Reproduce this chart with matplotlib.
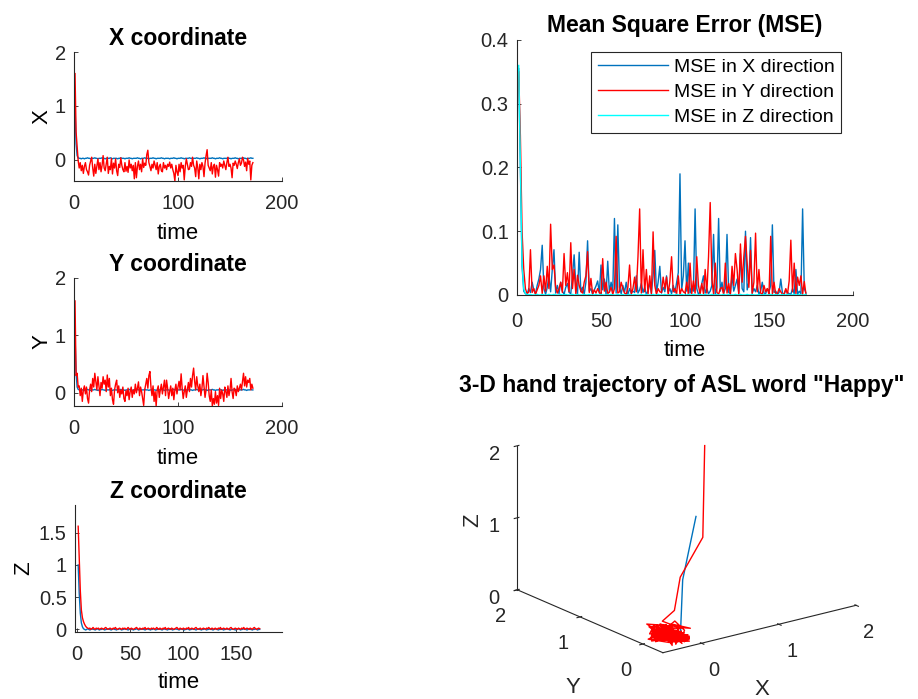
import matplotlib
matplotlib.use('Agg')
import matplotlib.pyplot as plt
from matplotlib.ticker import FuncFormatter

plt.rcParams['font.family'] = ['Liberation Sans', 'DejaVu Sans']

# ---- data (t = 1..172) ----
x_est = [1.00, 0.30, 0.08, 0.04, 0.03, 0.03, 0.02, 0.03, 0.03, 0.02,
         0.03, 0.03, 0.04, 0.03, 0.03, 0.02, 0.03, 0.03, 0.03, 0.04,
         0.03, 0.03, 0.02, 0.03, 0.03, 0.03, 0.04, 0.03, 0.03, 0.02,
         0.03, 0.03, 0.03, 0.03, 0.04, 0.03, 0.02, 0.03, 0.03, 0.03,
         0.03, 0.02, 0.03, 0.03, 0.04, 0.03, 0.03, 0.03, 0.02, 0.03,
         0.03, 0.03, 0.04, 0.03, 0.03, 0.02, 0.03, 0.03, 0.03, 0.03,
         0.04, 0.03, 0.03, 0.02, 0.03, 0.03, 0.03, 0.04, 0.03, 0.03,
         0.03, 0.02, 0.03, 0.03, 0.03, 0.04, 0.03, 0.03, 0.02, 0.03,
         0.03, 0.03, 0.03, 0.04, 0.03, 0.03, 0.02, 0.03, 0.03, 0.03,
         0.03, 0.02, 0.03, 0.03, 0.03, 0.04, 0.03, 0.03, 0.02, 0.03,
         0.03, 0.03, 0.04, 0.03, 0.03, 0.02, 0.03, 0.03, 0.03, 0.03,
         0.04, 0.03, 0.03, 0.02, 0.03, 0.03, 0.03, 0.04, 0.03, 0.03,
         0.02, 0.03, 0.03, 0.03, 0.04, 0.03, 0.03, 0.02, 0.03, 0.03,
         0.03, 0.03, 0.04, 0.03, 0.03, 0.02, 0.03, 0.03, 0.03, 0.04,
         0.03, 0.03, 0.02, 0.03, 0.03, 0.03, 0.03, 0.04, 0.03, 0.03,
         0.02, 0.03, 0.03, 0.03, 0.04, 0.03, 0.03, 0.02, 0.03, 0.03,
         0.03, 0.03, 0.04, 0.03, 0.03, 0.02, 0.03, 0.03, 0.03, 0.04,
         0.03, 0.03]
x_meas = [1.60, 0.52, 0.26, -0.01, -0.15, -0.05, -0.20, -0.10, -0.25, -0.12,
          -0.05, -0.18, -0.22, -0.28, -0.10, -0.02, 0.05, -0.15, -0.30, -0.08,
          -0.25, -0.12, 0.02, -0.18, -0.05, -0.22, -0.10, 0.08, -0.15, -0.20,
          -0.08, 0.05, -0.25, -0.12, -0.18, 0.03, -0.26, -0.06, -0.15, 0.02,
          -0.20, -0.29, -0.08, -0.14, 0.04, -0.10, -0.18, -0.22, -0.05, -0.21,
          -0.12, -0.23, 0.00, -0.15, -0.08, -0.20, -0.10, -0.35, -0.05, -0.33,
          -0.12, -0.02, -0.18, -0.08, -0.22, 0.02, -0.14, -0.06, -0.10, 0.10,
          0.18, -0.05, -0.12, -0.20, -0.08, -0.15, -0.02, -0.10, -0.18, -0.05,
          -0.26, -0.12, -0.08, -0.20, -0.22, -0.05, -0.15, -0.10, -0.18, -0.08,
          -0.12, -0.04, -0.15, -0.08, -0.18, -0.25, -0.39, -0.10, -0.22, -0.29,
          -0.08, -0.22, -0.05, -0.15, -0.10, -0.37, -0.12, 0.02, -0.08, -0.18,
          -0.17, -0.05, -0.12, 0.05, -0.10, -0.15, -0.31, -0.02, -0.14, -0.35,
          -0.08, -0.18, -0.05, -0.12, -0.31, -0.06, 0.08, 0.19, -0.10, -0.15,
          -0.20, -0.05, -0.26, -0.12, -0.08, -0.32, -0.10, -0.18, -0.30, -0.05,
          -0.12, -0.08, -0.15, -0.02, -0.10, -0.18, -0.05, 0.05, -0.12, -0.08,
          -0.15, -0.33, -0.06, -0.10, -0.02, -0.08, -0.16, -0.05, 0.02, -0.10,
          -0.06, 0.05, 0.00, -0.12, -0.04, -0.20, 0.03, -0.08, -0.02, -0.37,
          -0.10, -0.05]

y_est = [1.00, 0.35, 0.10, 0.06, 0.05, 0.05, 0.04, 0.05, 0.05, 0.04,
         0.05, 0.05, 0.06, 0.05, 0.05, 0.04, 0.05, 0.05, 0.05, 0.06,
         0.05, 0.05, 0.04, 0.05, 0.05, 0.05, 0.06, 0.05, 0.05, 0.04,
         0.05, 0.05, 0.05, 0.05, 0.06, 0.05, 0.04, 0.05, 0.05, 0.05,
         0.05, 0.04, 0.05, 0.05, 0.06, 0.05, 0.05, 0.05, 0.04, 0.05,
         0.05, 0.05, 0.06, 0.05, 0.05, 0.04, 0.05, 0.05, 0.05, 0.05,
         0.06, 0.05, 0.05, 0.04, 0.05, 0.05, 0.05, 0.06, 0.05, 0.05,
         0.05, 0.04, 0.05, 0.05, 0.05, 0.06, 0.05, 0.05, 0.04, 0.05,
         0.05, 0.05, 0.05, 0.06, 0.05, 0.05, 0.04, 0.05, 0.05, 0.05,
         0.05, 0.04, 0.05, 0.05, 0.05, 0.06, 0.05, 0.05, 0.04, 0.05,
         0.05, 0.05, 0.06, 0.05, 0.05, 0.04, 0.05, 0.05, 0.05, 0.05,
         0.06, 0.05, 0.05, 0.04, 0.05, 0.05, 0.05, 0.06, 0.05, 0.05,
         0.04, 0.05, 0.05, 0.05, 0.06, 0.05, 0.05, 0.04, 0.05, 0.05,
         0.05, 0.05, 0.06, 0.05, 0.05, 0.04, 0.05, 0.05, 0.05, 0.06,
         0.05, 0.05, 0.04, 0.05, 0.05, 0.05, 0.05, 0.06, 0.05, 0.05,
         0.04, 0.05, 0.05, 0.05, 0.06, 0.05, 0.05, 0.04, 0.05, 0.05,
         0.05, 0.05, 0.06, 0.05, 0.05, 0.04, 0.05, 0.05, 0.05, 0.06,
         0.05, 0.05]
y_meas = [1.60, 0.30, 0.34, 0.10, 0.12, -0.05, 0.08, -0.15, 0.05, 0.12,
          -0.02, 0.10, -0.10, -0.18, 0.05, 0.15, 0.02, 0.25, 0.10, 0.34,
          0.20, 0.05, 0.28, 0.12, -0.05, 0.18, 0.08, 0.28, 0.15, 0.22,
          0.02, 0.31, 0.10, 0.25, -0.05, 0.08, -0.12, -0.20, 0.05, 0.15,
          0.22, 0.00, 0.12, -0.08, 0.05, -0.02, 0.10, -0.10, -0.15, 0.04,
          -0.05, 0.08, -0.12, 0.02, 0.10, -0.08, 0.05, -0.02, 0.15, 0.00,
          0.08, 0.19, -0.05, 0.10, 0.02, -0.10, -0.22, 0.05, 0.15, 0.25,
          0.08, 0.30, 0.37, 0.10, -0.05, 0.12, -0.15, 0.02, -0.23, 0.05,
          0.12, -0.08, 0.05, 0.15, -0.02, 0.10, 0.22, -0.05, 0.22, 0.08,
          -0.10, 0.02, 0.12, -0.05, 0.08, -0.12, 0.05, 0.15, -0.02, 0.10,
          0.20, 0.05, 0.33, 0.08, -0.10, 0.02, 0.12, -0.08, 0.05, 0.18,
          0.02, 0.25, 0.10, 0.30, 0.43, 0.20, 0.05, 0.28, 0.12, 0.02,
          0.15, -0.05, 0.08, 0.30, 0.10, -0.08, 0.05, 0.34, 0.18, -0.05,
          -0.15, 0.05, -0.23, -0.10, -0.20, 0.02, -0.18, -0.05, -0.22, 0.08,
          -0.10, 0.05, -0.02, -0.15, 0.10, 0.02, -0.08, 0.12, -0.05, 0.05,
          0.25, 0.02, -0.10, 0.08, 0.05, -0.05, 0.12, 0.02, 0.08, 0.15,
          0.05, 0.20, 0.34, 0.12, 0.28, 0.10, 0.22, 0.18, 0.25, 0.05,
          0.15, 0.08]

z_est = [1.00, 0.55, 0.25, 0.10, 0.04, 0.01, 0.00, -0.01, 0.00, 0.01,
         0.00, -0.01, 0.00, 0.01, 0.00, 0.00, -0.01, 0.00, 0.01, 0.00,
         -0.01, 0.00, 0.00, 0.01, 0.00, -0.01, 0.00, 0.00, 0.01, 0.00,
         0.00, -0.01, 0.00, 0.01, 0.00, 0.00, -0.01, 0.00, 0.00, 0.01,
         0.00, -0.01, 0.00, 0.00, 0.01, 0.00, 0.00, -0.01, 0.00, 0.01,
         0.00, 0.00, -0.01, 0.00, 0.00, 0.01, 0.00, -0.01, 0.00, 0.00,
         0.01, 0.00, 0.00, -0.01, 0.00, 0.01, 0.00, 0.00, -0.01, 0.00,
         0.00, 0.01, 0.00, -0.01, 0.00, 0.00, 0.01, 0.00, 0.00, -0.01,
         0.00, 0.01, 0.00, 0.00, -0.01, 0.00, 0.00, 0.01, 0.00, -0.01,
         0.00, 0.00, 0.01, 0.00, 0.00, -0.01, 0.00, 0.01, 0.00, 0.00,
         -0.01, 0.00, 0.00, 0.01, 0.00, -0.01, 0.00, 0.00, 0.01, 0.00,
         0.00, -0.01, 0.00, 0.01, 0.00, 0.00, -0.01, 0.00, 0.00, 0.01,
         0.00, -0.01, 0.00, 0.00, 0.01, 0.00, 0.00, -0.01, 0.00, 0.01,
         0.00, 0.00, -0.01, 0.00, 0.00, 0.01, 0.00, -0.01, 0.00, 0.00,
         0.01, 0.00, 0.00, -0.01, 0.00, 0.01, 0.00, 0.00, -0.01, 0.00,
         0.00, 0.01, 0.00, -0.01, 0.00, 0.00, 0.01, 0.00, 0.00, -0.01,
         0.00, 0.01, 0.00, 0.00, -0.01, 0.00, 0.00, 0.01, 0.00, -0.01,
         0.00, 0.00]
z_meas = [1.60, 1.10, 0.60, 0.30, 0.18, 0.12, 0.08, 0.05, 0.03, 0.02,
          0.01, 0.02, 0.00, 0.01, 0.03, 0.01, 0.00, 0.02, 0.01, 0.02,
          0.00, 0.01, 0.02, 0.01, 0.00, 0.02, 0.03, 0.01, 0.00, 0.01,
          0.02, 0.01, 0.00, 0.02, 0.01, 0.03, 0.01, 0.00, 0.01, 0.02,
          0.01, 0.00, 0.02, 0.01, 0.02, 0.00, 0.01, 0.03, 0.01, 0.00,
          0.02, 0.01, 0.00, 0.01, 0.02, 0.03, 0.01, 0.00, 0.02, 0.01,
          0.00, 0.02, 0.01, 0.03, 0.00, 0.01, 0.02, 0.01, 0.00, 0.02,
          0.01, 0.02, 0.00, 0.01, 0.03, 0.01, 0.00, 0.02, 0.01, 0.00,
          0.02, 0.01, 0.03, 0.00, 0.01, 0.02, 0.01, 0.00, 0.02, 0.01,
          0.00, 0.01, 0.02, 0.03, 0.01, 0.00, 0.02, 0.01, 0.00, 0.02,
          0.01, 0.00, 0.02, 0.01, 0.03, 0.00, 0.01, 0.02, 0.01, 0.00,
          0.02, 0.03, 0.01, 0.00, 0.01, 0.02, 0.00, 0.01, 0.02, 0.01,
          0.00, 0.02, 0.01, 0.03, 0.01, 0.00, 0.02, 0.01, 0.00, 0.02,
          0.01, 0.00, 0.02, 0.01, 0.03, 0.00, 0.01, 0.02, 0.01, 0.00,
          0.02, 0.01, 0.00, 0.02, 0.03, 0.01, 0.00, 0.01, 0.02, 0.01,
          0.00, 0.02, 0.01, 0.00, 0.02, 0.01, 0.03, 0.00, 0.01, 0.02,
          0.01, 0.00, 0.02, 0.01, 0.00, 0.02, 0.03, 0.01, 0.00, 0.01,
          0.02, 0.01]

mse_x = [0.355, 0.200, 0.045, 0.006, 0.002, 0.001, 0.010, 0.004, 0.020, 0.008,
         0.002, 0.015, 0.025, 0.040, 0.078, 0.010, 0.001, 0.012, 0.030, 0.005,
         0.040, 0.071, 0.003, 0.015, 0.002, 0.020, 0.006, 0.001, 0.012, 0.018,
         0.004, 0.002, 0.030, 0.063, 0.015, 0.001, 0.067, 0.005, 0.012, 0.001,
         0.020, 0.085, 0.006, 0.010, 0.001, 0.008, 0.014, 0.022, 0.003, 0.047,
         0.008, 0.025, 0.001, 0.053, 0.004, 0.020, 0.006, 0.120, 0.003, 0.110,
         0.012, 0.002, 0.015, 0.004, 0.020, 0.001, 0.010, 0.003, 0.006, 0.004,
         0.030, 0.003, 0.008, 0.018, 0.004, 0.012, 0.001, 0.006, 0.020, 0.003,
         0.030, 0.070, 0.004, 0.020, 0.045, 0.003, 0.012, 0.005, 0.030, 0.004,
         0.010, 0.002, 0.015, 0.004, 0.020, 0.035, 0.190, 0.008, 0.030, 0.085,
         0.006, 0.050, 0.003, 0.012, 0.006, 0.135, 0.010, 0.001, 0.005, 0.018,
         0.030, 0.003, 0.010, 0.002, 0.006, 0.015, 0.095, 0.001, 0.012, 0.120,
         0.006, 0.020, 0.003, 0.010, 0.095, 0.004, 0.002, 0.030, 0.006, 0.015,
         0.025, 0.003, 0.065, 0.010, 0.005, 0.100, 0.008, 0.020, 0.090, 0.003,
         0.010, 0.005, 0.015, 0.001, 0.006, 0.020, 0.003, 0.002, 0.010, 0.005,
         0.015, 0.110, 0.004, 0.006, 0.001, 0.004, 0.025, 0.003, 0.001, 0.008,
         0.004, 0.002, 0.001, 0.010, 0.002, 0.040, 0.001, 0.006, 0.002, 0.135,
         0.010, 0.003]
mse_y = [0.350, 0.250, 0.100, 0.040, 0.010, 0.002, 0.005, 0.071, 0.004, 0.010,
         0.001, 0.008, 0.015, 0.030, 0.002, 0.030, 0.006, 0.045, 0.010, 0.111,
         0.040, 0.047, 0.012, 0.003, 0.010, 0.020, 0.004, 0.065, 0.015, 0.035,
         0.005, 0.082, 0.010, 0.040, 0.002, 0.031, 0.015, 0.006, 0.003, 0.020,
         0.030, 0.068, 0.004, 0.026, 0.002, 0.008, 0.003, 0.010, 0.004, 0.001,
         0.057, 0.006, 0.020, 0.002, 0.005, 0.012, 0.001, 0.010, 0.092, 0.003,
         0.005, 0.020, 0.010, 0.003, 0.001, 0.012, 0.047, 0.001, 0.010, 0.028,
         0.005, 0.060, 0.135, 0.003, 0.071, 0.005, 0.040, 0.002, 0.030, 0.001,
         0.099, 0.015, 0.001, 0.010, 0.005, 0.004, 0.028, 0.010, 0.028, 0.001,
         0.022, 0.060, 0.005, 0.010, 0.001, 0.030, 0.001, 0.010, 0.005, 0.003,
         0.020, 0.001, 0.050, 0.002, 0.022, 0.003, 0.060, 0.015, 0.001, 0.018,
         0.002, 0.040, 0.003, 0.060, 0.145, 0.025, 0.001, 0.050, 0.004, 0.001,
         0.010, 0.012, 0.001, 0.050, 0.003, 0.018, 0.001, 0.045, 0.015, 0.065,
         0.040, 0.001, 0.080, 0.020, 0.060, 0.092, 0.050, 0.012, 0.070, 0.002,
         0.020, 0.097, 0.005, 0.040, 0.003, 0.001, 0.015, 0.005, 0.010, 0.001,
         0.092, 0.001, 0.020, 0.001, 0.002, 0.010, 0.005, 0.001, 0.002, 0.010,
         0.001, 0.022, 0.086, 0.005, 0.050, 0.002, 0.028, 0.015, 0.030, 0.001,
         0.021, 0.001]
mse_z = [0.360, 0.200, 0.050, 0.010, 0.002, 0.001, 0.000, 0.001, 0.000, 0.000,
         0.000, 0.001, 0.000, 0.000, 0.001, 0.000, 0.000, 0.000, 0.001, 0.000,
         0.000, 0.001, 0.000, 0.000, 0.000, 0.001, 0.000, 0.000, 0.001, 0.000,
         0.000, 0.000, 0.001, 0.000, 0.000, 0.001, 0.000, 0.000, 0.000, 0.001,
         0.000, 0.000, 0.001, 0.000, 0.000, 0.000, 0.001, 0.000, 0.000, 0.001,
         0.000, 0.000, 0.000, 0.001, 0.000, 0.001, 0.000, 0.000, 0.000, 0.001,
         0.000, 0.000, 0.001, 0.000, 0.000, 0.000, 0.001, 0.000, 0.000, 0.001,
         0.000, 0.000, 0.000, 0.001, 0.000, 0.000, 0.001, 0.000, 0.000, 0.000,
         0.001, 0.000, 0.000, 0.001, 0.000, 0.000, 0.000, 0.001, 0.000, 0.000,
         0.001, 0.000, 0.000, 0.000, 0.001, 0.000, 0.000, 0.001, 0.000, 0.000,
         0.000, 0.001, 0.000, 0.000, 0.001, 0.000, 0.000, 0.000, 0.001, 0.000,
         0.000, 0.001, 0.000, 0.000, 0.000, 0.001, 0.000, 0.000, 0.001, 0.000,
         0.000, 0.000, 0.001, 0.000, 0.000, 0.001, 0.000, 0.000, 0.000, 0.001,
         0.000, 0.000, 0.001, 0.000, 0.000, 0.000, 0.001, 0.000, 0.000, 0.001,
         0.000, 0.000, 0.000, 0.001, 0.000, 0.000, 0.001, 0.000, 0.000, 0.000,
         0.001, 0.000, 0.000, 0.001, 0.000, 0.000, 0.000, 0.001, 0.000, 0.000,
         0.001, 0.000, 0.000, 0.000, 0.001, 0.000, 0.000, 0.001, 0.000, 0.000,
         0.000, 0.001]

t = list(range(1, len(x_meas) + 1))

BLUE = '#0072BD'
RED = '#FF0000'
CYAN = '#00FFFF'
DARK = '#262626'
LW = 1.0
TICK_FS = 14.5
LAB_FS = 16
TITLE_FS = 16.5

fig = plt.figure(figsize=(9.18, 6.99), dpi=100)


def matlab_style(ax, xpad=9.5):
    ax.spines['top'].set_visible(False)
    ax.spines['right'].set_visible(False)
    for s in ('left', 'bottom'):
        ax.spines[s].set_color(DARK)
        ax.spines[s].set_linewidth(0.8)
    ax.tick_params(direction='in', length=3, width=0.6, colors=DARK,
                   labelsize=TICK_FS)
    ax.tick_params(axis='x', pad=xpad)
    ax.tick_params(axis='y', pad=6)
    ax.yaxis.set_major_formatter(FuncFormatter(lambda v, p: '%g' % v))


# X coordinate
ax1 = fig.add_axes([0.0806, 0.7411, 0.2266, 0.1845])
ax1.plot(t, x_est, color=BLUE, lw=LW)
ax1.plot(t, x_meas, color=RED, lw=LW)
ax1.set_xlim(0, 200)
ax1.set_ylim(-0.39, 2)
ax1.set_yticks([0, 1, 2])
ax1.set_xticks([0, 100, 200])
matlab_style(ax1)
ax1.set_title('X coordinate', fontsize=TITLE_FS, fontweight='bold', pad=5)
ax1.set_xlabel('time', fontsize=LAB_FS, labelpad=7)
ax1.set_ylabel('X', fontsize=LAB_FS, labelpad=1.5)

# Y coordinate
ax2 = fig.add_axes([0.0806, 0.4192, 0.2266, 0.1831])
ax2.plot(t, y_est, color=BLUE, lw=LW)
ax2.plot(t, y_meas, color=RED, lw=LW)
ax2.set_xlim(0, 200)
ax2.set_ylim(-0.23, 2)
ax2.set_yticks([0, 1, 2])
ax2.set_xticks([0, 100, 200])
matlab_style(ax2)
ax2.set_title('Y coordinate', fontsize=TITLE_FS, fontweight='bold', pad=5)
ax2.set_xlabel('time', fontsize=LAB_FS, labelpad=7)
ax2.set_ylabel('Y', fontsize=LAB_FS, labelpad=1.5)

# Z coordinate
ax3 = fig.add_axes([0.0817, 0.0959, 0.2255, 0.1817])
ax3.plot(t, z_est, color=BLUE, lw=LW)
ax3.plot(t, z_meas, color=RED, lw=LW)
ax3.set_xlim(-2, 193)
ax3.set_ylim(-0.04, 1.93)
ax3.set_yticks([0, 0.5, 1, 1.5])
ax3.set_xticks([0, 50, 100, 150])
matlab_style(ax3)
ax3.set_title('Z coordinate', fontsize=TITLE_FS, fontweight='bold', pad=5)
ax3.set_xlabel('time', fontsize=LAB_FS, labelpad=6)
ax3.set_ylabel('Z', fontsize=LAB_FS, labelpad=3.5)

# MSE
ax4 = fig.add_axes([0.5632, 0.578, 0.366, 0.3648])
ax4.plot(t, mse_x, color=BLUE, lw=LW, label='MSE in X direction')
ax4.plot(t, mse_y, color=RED, lw=LW, label='MSE in Y direction')
ax4.plot(t, mse_z, color=CYAN, lw=LW, label='MSE in Z direction')
ax4.set_xlim(0, 200)
ax4.set_ylim(0, 0.4)
ax4.set_yticks([0, 0.1, 0.2, 0.3, 0.4])
ax4.set_xticks([0, 50, 100, 150, 200])
matlab_style(ax4, xpad=12)
ax4.set_title('Mean Square Error (MSE)', fontsize=TITLE_FS, fontweight='bold',
              pad=6)
ax4.set_xlabel('time', fontsize=LAB_FS, labelpad=7)
leg = ax4.legend(loc='upper right', fontsize=14, fancybox=False, framealpha=1,
                 edgecolor=DARK, handlelength=3.6, borderaxespad=0.6,
                 labelspacing=0.38, handletextpad=0.3, borderpad=0.35)
leg.get_frame().set_linewidth(0.8)

# 3-D trajectory
ax5 = fig.add_axes([0.4929, -0.0086, 0.5, 0.5], projection='3d')
ax5.plot(x_est, y_est, z_est, color=BLUE, lw=LW)
ax5.plot(x_meas, y_meas, z_meas, color=RED, lw=LW)
ax5.set_xlim(-0.5, 2)
ax5.set_ylim(-0.32, 2)
ax5.set_zlim(0, 2)
ax5.set_xticks([0, 1, 2])
ax5.set_yticks([0, 1, 2])
ax5.set_zticks([0, 1, 2])
ax5.set_proj_type('ortho')
ax5.view_init(elev=19, azim=-127)
ax5.set_box_aspect((1, 1, 0.63), zoom=1.04)
ax5.grid(False)
for a in (ax5.xaxis, ax5.yaxis, ax5.zaxis):
    a.set_pane_color((1, 1, 1, 0))
    a.pane.set_edgecolor((1, 1, 1, 0))
    a.line.set_color(DARK)
    a.line.set_linewidth(0.8)
ax5.tick_params(labelsize=TICK_FS, colors=DARK)
ax5.zaxis.set_tick_params(pad=1)
# axis names placed where MATLAB puts them (figure coordinates)
ax5.text2D(0.830, 0.013, 'X', fontsize=LAB_FS, color=DARK,
           ha='center', va='center', transform=fig.transFigure)
ax5.text2D(0.624, 0.016, 'Y', fontsize=LAB_FS, color=DARK,
           ha='center', va='center', transform=fig.transFigure)
ax5.text2D(0.515, 0.256, 'Z', fontsize=LAB_FS, color=DARK, rotation=90,
           ha='center', va='center', transform=fig.transFigure)
ax5.set_title('3-D hand trajectory of ASL word "Happy"', fontsize=TITLE_FS,
              fontweight='bold', y=0.975, pad=0)

fig.savefig('out.png', dpi=100)
